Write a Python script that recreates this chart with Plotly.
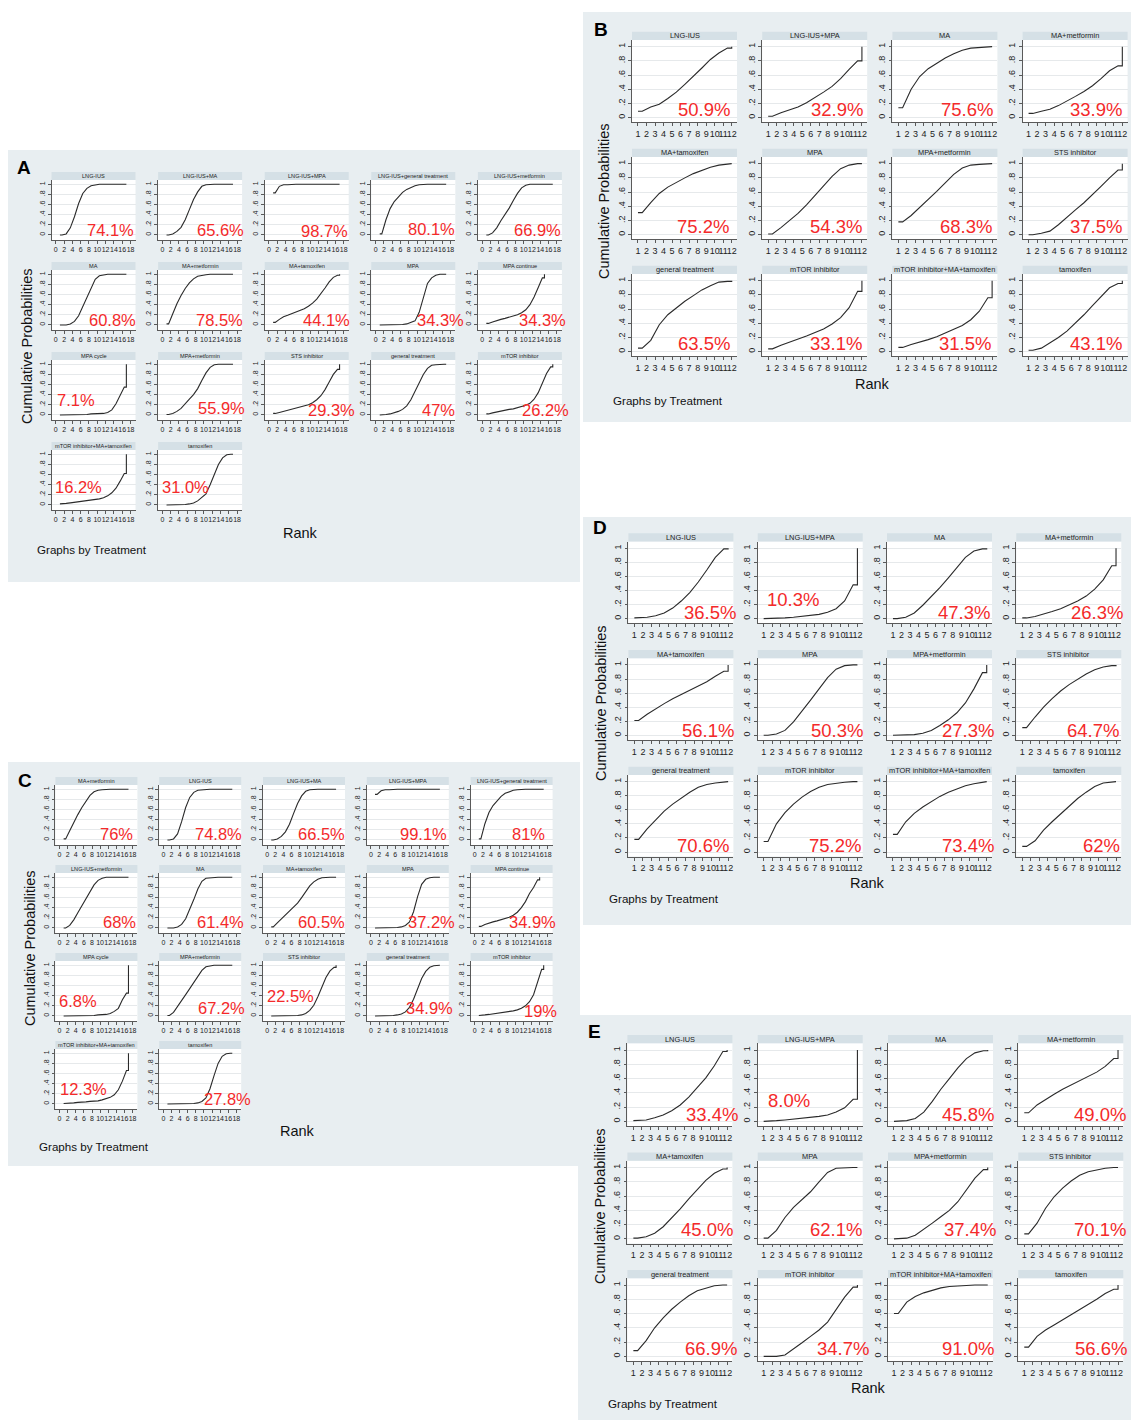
import plotly.graph_objects as go

W, H = 1131, 1420

# ---------------------------------------------------------------- data
# cumulative ranking probabilities, read at rank k+0.5 (k = 1 .. n-1); rank n reaches 1
A_TREATMENTS = ["LNG-IUS", "LNG-IUS+MA", "LNG-IUS+MPA", "LNG-IUS+general treatment", "LNG-IUS+metformin",
                "MA", "MA+metformin", "MA+tamoxifen", "MPA", "MPA continue",
                "MPA cycle", "MPA+metformin", "STS inhibitor", "general treatment", "mTOR inhibitor",
                "mTOR inhibitor+MA+tamoxifen", "tamoxifen"]
A_SUCRA = ["74.1%", "65.6%", "98.7%", "80.1%", "66.9%", "60.8%", "78.5%", "44.1%", "34.3%", "34.3%",
           "7.1%", "55.9%", "29.3%", "47%", "26.2%", "16.2%", "31.0%"]
A_CUM = [
    [0, 0.02, 0.14, 0.36, 0.62, 0.82, 0.92, 0.97, 0.99, 1, 1, 1, 1, 1, 1, 1],
    [0, 0.02, 0.07, 0.15, 0.30, 0.50, 0.70, 0.85, 0.96, 0.99, 1, 1, 1, 1, 1, 1],
    [0.83, 0.96, 0.99, 0.99, 1, 1, 1, 1, 1, 1, 1, 1, 1, 1, 1, 1],
    [0.02, 0.30, 0.52, 0.66, 0.76, 0.84, 0.90, 0.94, 0.97, 0.99, 1, 1, 1, 1, 1, 1],
    [0, 0.04, 0.14, 0.28, 0.40, 0.53, 0.68, 0.82, 0.93, 0.98, 1, 1, 1, 1, 1, 1],
    [0, 0, 0.02, 0.07, 0.18, 0.36, 0.55, 0.75, 0.90, 0.97, 0.99, 1, 1, 1, 1, 1],
    [0.02, 0.22, 0.42, 0.58, 0.72, 0.83, 0.91, 0.96, 0.98, 0.99, 1, 1, 1, 1, 1, 1],
    [0.05, 0.11, 0.16, 0.19, 0.22, 0.25, 0.28, 0.32, 0.37, 0.43, 0.51, 0.61, 0.73, 0.85, 0.94, 0.98],
    [0, 0, 0, 0, 0, 0.01, 0.02, 0.05, 0.08, 0.25, 0.55, 0.82, 0.93, 0.98, 1, 1],
    [0.03, 0.06, 0.09, 0.11, 0.13, 0.15, 0.17, 0.20, 0.24, 0.30, 0.40, 0.55, 0.74, 0.93],
    [0, 0, 0.01, 0.01, 0.01, 0.01, 0.01, 0.02, 0.02, 0.02, 0.03, 0.05, 0.10, 0.22, 0.40, 0.55],
    [0.01, 0.03, 0.07, 0.13, 0.21, 0.31, 0.40, 0.52, 0.68, 0.83, 0.94, 0.99, 1, 1, 1, 1],
    [0.03, 0.05, 0.07, 0.09, 0.11, 0.13, 0.15, 0.17, 0.20, 0.24, 0.30, 0.38, 0.50, 0.65, 0.80, 0.90],
    [0, 0.01, 0.02, 0.04, 0.07, 0.11, 0.18, 0.30, 0.46, 0.64, 0.80, 0.92, 0.98, 0.99, 1, 1],
    [0.02, 0.04, 0.06, 0.08, 0.09, 0.11, 0.12, 0.14, 0.16, 0.19, 0.23, 0.31, 0.44, 0.62, 0.82, 0.95],
    [0.02, 0.03, 0.04, 0.05, 0.06, 0.07, 0.08, 0.09, 0.10, 0.12, 0.14, 0.18, 0.24, 0.33, 0.47, 0.62],
    [0, 0, 0, 0.01, 0.01, 0.02, 0.04, 0.08, 0.15, 0.22, 0.40, 0.60, 0.80, 0.93, 0.99, 1],
]

BDE_TREATMENTS = ["LNG-IUS", "LNG-IUS+MPA", "MA", "MA+metformin", "MA+tamoxifen", "MPA",
                  "MPA+metformin", "STS inhibitor", "general treatment", "mTOR inhibitor",
                  "mTOR inhibitor+MA+tamoxifen", "tamoxifen"]
B_SUCRA = ["50.9%", "32.9%", "75.6%", "33.9%", "75.2%", "54.3%", "68.3%", "37.5%",
           "63.5%", "33.1%", "31.5%", "43.1%"]
B_CUM = [
    [0.09, 0.15, 0.19, 0.27, 0.36, 0.47, 0.58, 0.70, 0.82, 0.91, 0.98],
    [0.02, 0.07, 0.11, 0.15, 0.21, 0.28, 0.36, 0.44, 0.55, 0.68, 0.80],
    [0.14, 0.40, 0.58, 0.69, 0.77, 0.84, 0.90, 0.95, 0.98, 0.99, 1.0],
    [0.06, 0.09, 0.12, 0.17, 0.23, 0.30, 0.37, 0.45, 0.55, 0.66, 0.73],
    [0.31, 0.45, 0.58, 0.67, 0.74, 0.80, 0.86, 0.91, 0.95, 0.98, 0.99],
    [0.01, 0.10, 0.20, 0.30, 0.42, 0.55, 0.69, 0.82, 0.93, 0.98, 1.0],
    [0.18, 0.27, 0.38, 0.49, 0.61, 0.73, 0.85, 0.94, 0.98, 0.99, 1.0],
    [0.0, 0.02, 0.05, 0.14, 0.25, 0.35, 0.45, 0.56, 0.68, 0.80, 0.91],
    [0.05, 0.16, 0.38, 0.52, 0.62, 0.71, 0.79, 0.87, 0.93, 0.98, 0.99],
    [0.04, 0.09, 0.13, 0.17, 0.22, 0.27, 0.32, 0.39, 0.48, 0.62, 0.85],
    [0.06, 0.10, 0.13, 0.17, 0.21, 0.26, 0.31, 0.37, 0.45, 0.57, 0.76],
    [0.02, 0.05, 0.12, 0.20, 0.29, 0.40, 0.52, 0.65, 0.78, 0.90, 0.96],
]

C_TREATMENTS = ["MA+metformin", "LNG-IUS", "LNG-IUS+MA", "LNG-IUS+MPA", "LNG-IUS+general treatment",
                "LNG-IUS+metformin", "MA", "MA+tamoxifen", "MPA", "MPA continue",
                "MPA cycle", "MPA+metformin", "STS inhibitor", "general treatment", "mTOR inhibitor",
                "mTOR inhibitor+MA+tamoxifen", "tamoxifen"]
C_SUCRA = ["76%", "74.8%", "66.5%", "99.1%", "81%", "68%", "61.4%", "60.5%", "37.2%", "34.9%",
           "6.8%", "67.2%", "22.5%", "34.9%", "19%", "12.3%", "27.8%"]
C_CUM = [
    [0.02, 0.18, 0.35, 0.50, 0.64, 0.77, 0.88, 0.95, 0.98, 0.99, 1, 1, 1, 1, 1, 1],
    [0, 0.02, 0.12, 0.36, 0.64, 0.84, 0.94, 0.98, 0.99, 1, 1, 1, 1, 1, 1, 1],
    [0, 0.02, 0.07, 0.16, 0.31, 0.52, 0.72, 0.87, 0.96, 0.99, 1, 1, 1, 1, 1, 1],
    [0.90, 0.97, 0.99, 0.99, 1, 1, 1, 1, 1, 1, 1, 1, 1, 1, 1, 1],
    [0.02, 0.32, 0.54, 0.68, 0.78, 0.86, 0.92, 0.95, 0.98, 0.99, 1, 1, 1, 1, 1, 1],
    [0, 0.05, 0.16, 0.30, 0.44, 0.58, 0.72, 0.85, 0.94, 0.98, 1, 1, 1, 1, 1, 1],
    [0, 0, 0.02, 0.07, 0.18, 0.36, 0.56, 0.77, 0.92, 0.98, 0.99, 1, 1, 1, 1, 1],
    [0.02, 0.10, 0.18, 0.25, 0.32, 0.40, 0.49, 0.60, 0.72, 0.83, 0.91, 0.96, 0.99, 1, 1, 1],
    [0, 0, 0, 0, 0, 0.01, 0.02, 0.05, 0.12, 0.32, 0.62, 0.86, 0.96, 0.99, 1, 1],
    [0.03, 0.07, 0.10, 0.12, 0.14, 0.16, 0.18, 0.21, 0.25, 0.31, 0.40, 0.52, 0.68, 0.80, 0.95],
    [0, 0, 0.01, 0.01, 0.01, 0.01, 0.01, 0.01, 0.02, 0.02, 0.03, 0.05, 0.09, 0.15, 0.32, 0.45],
    [0.01, 0.07, 0.18, 0.30, 0.42, 0.54, 0.66, 0.78, 0.90, 0.97, 0.99, 1, 1, 1, 1, 1],
    [0, 0, 0, 0, 0, 0, 0.01, 0.02, 0.05, 0.11, 0.21, 0.38, 0.58, 0.76, 0.89, 0.96],
    [0, 0, 0, 0, 0.01, 0.02, 0.04, 0.08, 0.17, 0.33, 0.54, 0.74, 0.88, 0.96, 0.99, 1],
    [0.01, 0.02, 0.03, 0.04, 0.05, 0.06, 0.07, 0.08, 0.10, 0.12, 0.15, 0.20, 0.28, 0.42, 0.66, 0.92],
    [0.01, 0.01, 0.02, 0.03, 0.03, 0.04, 0.05, 0.05, 0.06, 0.08, 0.10, 0.13, 0.18, 0.28, 0.45, 0.66],
    [0, 0, 0, 0, 0, 0, 0.01, 0.02, 0.05, 0.12, 0.30, 0.56, 0.80, 0.94, 0.99, 1],
]

D_SUCRA = ["36.5%", "10.3%", "47.3%", "26.3%", "56.1%", "50.3%", "27.3%", "64.7%",
           "70.6%", "75.2%", "73.4%", "62%"]
D_CUM = [
    [0.01, 0.02, 0.04, 0.08, 0.15, 0.25, 0.37, 0.52, 0.69, 0.87, 0.99],
    [0.0, 0.01, 0.01, 0.02, 0.03, 0.04, 0.06, 0.09, 0.14, 0.25, 0.48],
    [0.0, 0.02, 0.08, 0.19, 0.31, 0.44, 0.58, 0.73, 0.87, 0.96, 0.99],
    [0.01, 0.03, 0.06, 0.10, 0.14, 0.19, 0.25, 0.32, 0.42, 0.55, 0.75],
    [0.21, 0.30, 0.38, 0.45, 0.52, 0.58, 0.64, 0.70, 0.76, 0.84, 0.91],
    [0.0, 0.02, 0.07, 0.19, 0.34, 0.50, 0.66, 0.82, 0.94, 0.99, 1.0],
    [0.0, 0.0, 0.01, 0.03, 0.07, 0.14, 0.22, 0.32, 0.46, 0.66, 0.89],
    [0.11, 0.26, 0.40, 0.52, 0.63, 0.72, 0.80, 0.87, 0.93, 0.97, 0.99],
    [0.18, 0.33, 0.46, 0.58, 0.68, 0.77, 0.85, 0.92, 0.96, 0.98, 0.99],
    [0.15, 0.40, 0.56, 0.68, 0.78, 0.86, 0.92, 0.96, 0.98, 0.99, 1.0],
    [0.25, 0.43, 0.55, 0.64, 0.72, 0.79, 0.85, 0.90, 0.94, 0.97, 0.99],
    [0.08, 0.16, 0.31, 0.43, 0.54, 0.65, 0.76, 0.85, 0.93, 0.98, 0.99],
]

E_SUCRA = ["33.4%", "8.0%", "45.8%", "49.0%", "45.0%", "62.1%", "37.4%", "70.1%",
           "66.9%", "34.7%", "91.0%", "56.6%"]
E_CUM = [
    [0.01, 0.02, 0.05, 0.09, 0.15, 0.23, 0.34, 0.47, 0.61, 0.78, 0.98],
    [0.0, 0.01, 0.02, 0.03, 0.04, 0.05, 0.07, 0.09, 0.13, 0.19, 0.31],
    [0.0, 0.01, 0.04, 0.13, 0.28, 0.45, 0.60, 0.75, 0.88, 0.96, 0.99],
    [0.12, 0.23, 0.31, 0.38, 0.45, 0.51, 0.57, 0.63, 0.69, 0.77, 0.88],
    [0.01, 0.03, 0.08, 0.17, 0.29, 0.42, 0.56, 0.69, 0.82, 0.92, 0.98],
    [0.01, 0.12, 0.30, 0.44, 0.55, 0.66, 0.80, 0.93, 0.99, 1.0, 1.0],
    [0.0, 0.01, 0.05, 0.13, 0.22, 0.31, 0.40, 0.52, 0.68, 0.85, 0.97],
    [0.07, 0.22, 0.43, 0.59, 0.71, 0.81, 0.89, 0.94, 0.97, 0.99, 1.0],
    [0.08, 0.22, 0.40, 0.54, 0.66, 0.76, 0.85, 0.92, 0.96, 0.99, 1.0],
    [0.0, 0.0, 0.02, 0.10, 0.19, 0.28, 0.37, 0.48, 0.65, 0.83, 0.97],
    [0.60, 0.76, 0.84, 0.89, 0.93, 0.96, 0.98, 0.99, 1.0, 1.0, 1.0],
    [0.13, 0.28, 0.37, 0.44, 0.51, 0.58, 0.65, 0.72, 0.80, 0.88, 0.94],
]

X_TICKS_18 = [0, 2, 4, 6, 8, 10, 12, 14, 16, 18]
X_TICKS_12 = [1, 2, 3, 4, 5, 6, 7, 8, 9, 10, 11, 12]
Y_TICKS = [0, 0.2, 0.4, 0.6, 0.8, 1]
Y_TICK_TEXT = ["0", ".2", ".4", ".6", ".8", "1"]

# ---------------------------------------------------------------- layout settings
# label placement (centre, in subplot-domain fractions)
A_LABEL_POS = [(0.70, 0.175), (0.74, 0.175), (0.71, 0.15), (0.72, 0.19), (0.71, 0.175),
               (0.73, 0.17), (0.73, 0.17), (0.74, 0.17), (0.82, 0.17), (0.77, 0.17),
               (0.29, 0.33), (0.75, 0.20), (0.80, 0.16), (0.80, 0.175), (0.81, 0.17),
               (0.32, 0.38), (0.33, 0.38)]
C_LABEL_POS = [(0.75, 0.19), (0.72, 0.19), (0.71, 0.19), (0.69, 0.19), (0.71, 0.19),
               (0.78, 0.19), (0.75, 0.19), (0.71, 0.19), (0.79, 0.19), (0.75, 0.19),
               (0.27, 0.33), (0.76, 0.21), (0.33, 0.41), (0.77, 0.22), (0.85, 0.175),
               (0.345, 0.34), (0.83, 0.16)]
B_LABEL_POS = [(0.69, 0.16), (0.71, 0.16), (0.71, 0.16), (0.70, 0.16),
               (0.68, 0.16), (0.70, 0.16), (0.70, 0.16), (0.70, 0.16),
               (0.69, 0.16), (0.70, 0.16), (0.69, 0.16), (0.70, 0.16)]
D_LABEL_POS = [(0.78, 0.13), (0.34, 0.285), (0.73, 0.13), (0.77, 0.13),
               (0.76, 0.12), (0.755, 0.12), (0.77, 0.12), (0.73, 0.12),
               (0.71, 0.14), (0.74, 0.14), (0.77, 0.14), (0.81, 0.14)]
E_LABEL_POS = [(0.81, 0.145), (0.30, 0.31), (0.76, 0.145), (0.78, 0.145),
               (0.76, 0.165), (0.75, 0.165), (0.78, 0.165), (0.78, 0.165),
               (0.80, 0.156), (0.81, 0.156), (0.76, 0.156), (0.79, 0.156)]

BIG = dict(cols=5, w=84, hh=8, ph=60, xr=[-1.03, 19.2], yr=[-0.1, 1.085], xt=X_TICKS_18,
           tf=7, hf=5.6, lf=16.5)
SMALL = dict(cols=4, w=105, hh=8.3, ph=82.3, xr=[0.3, 12.62], yr=[-0.065, 1.094], xt=X_TICKS_12,
             tf=9, hf=7.4, lf=18.5)

PANELS = [
    dict(BIG, name="A", treat=A_TREATMENTS, sucra=A_SUCRA, cum=A_CUM, lp=A_LABEL_POS,
         bg=(8, 150, 580, 582), left0=51.5, cpitch=106.6, top0=172, rpitch=90,
         letter=(24, 168), rank=(300, 533), gbt=(92, 549), ytitle=(27, 346)),
    dict(SMALL, name="B", treat=BDE_TREATMENTS, sucra=B_SUCRA, cum=B_CUM, lp=B_LABEL_POS,
         bg=(583, 12, 1131, 422), left0=632, cpitch=130.2, top0=31.7, rpitch=117,
         letter=(601, 30), rank=(872, 384), gbt=(668, 400), ytitle=(604, 201)),
    dict(BIG, name="C", treat=C_TREATMENTS, sucra=C_SUCRA, cum=C_CUM, lp=C_LABEL_POS,
         bg=(8, 762, 580, 1166), left0=55.4, cpitch=103.8, w=82, top0=777, rpitch=88,
         letter=(25, 780), rank=(297, 1131), gbt=(94, 1146), ytitle=(30, 948)),
    dict(SMALL, name="D", treat=BDE_TREATMENTS, sucra=D_SUCRA, cum=D_CUM, lp=D_LABEL_POS,
         bg=(583, 517, 1131, 925), left0=628.4, cpitch=129.3, top0=533.3, rpitch=116.7, ph=81.6,
         letter=(600, 528), rank=(867, 883), gbt=(664, 898), ytitle=(601, 703)),
    dict(SMALL, name="E", treat=BDE_TREATMENTS, sucra=E_SUCRA, cum=E_CUM, lp=E_LABEL_POS,
         bg=(578, 1015, 1131, 1420), left0=627.4, cpitch=130.3, top0=1035, rpitch=117.5, ph=82.7,
         letter=(594, 1031), rank=(868, 1388), gbt=(663, 1403), ytitle=(600, 1206)),
]

PANEL_BG = "#e8eef1"
STRIP_BG = "#d5e0e6"
AXIS_COL = "#5a5a5a"
GRID_COL = "#e6e9eb"
CURVE_COL = "#2a2a2a"
RED = "#f42a2a"
FONT = "Liberation Sans, Arial, sans-serif"
LABEL_FONT = "Liberation Sans, Arial, sans-serif"


def px(x):
    return x / W


def py(y):
    return 1 - y / H


def curve_xy(cum):
    n = len(cum) + 1
    xs = [1] + [k + 0.5 for k in range(1, n)] + [n, n]
    ys = [cum[0]] + list(cum) + [cum[-1], 1.0]
    return xs, ys


fig = go.Figure()
shapes, annotations, layout_axes = [], [], {}

for P in PANELS:
    x0b, y0b, x1b, y1b = P["bg"]
    shapes.append(dict(type="rect", xref="paper", yref="paper", x0=px(x0b), x1=px(x1b),
                       y0=py(y1b), y1=py(y0b), fillcolor=PANEL_BG, line=dict(width=0), layer="below"))

idx = 0
for P in PANELS:
    for j, (tr, lab, cum) in enumerate(zip(P["treat"], P["sucra"], P["cum"])):
        idx += 1
        r, c = divmod(j, P["cols"])
        x0 = P["left0"] + c * P["cpitch"]
        x1 = x0 + P["w"]
        ht = P["top0"] + r * P["rpitch"]
        pt = ht + P["hh"]
        pb = pt + P["ph"]
        sfx = "" if idx == 1 else str(idx)
        xs, ys = curve_xy(cum)
        fig.add_trace(go.Scatter(x=xs, y=ys, mode="lines", xaxis="x" + sfx, yaxis="y" + sfx,
                                 line=dict(color=CURVE_COL, width=1.1), hoverinfo="skip",
                                 showlegend=False))
        layout_axes["xaxis" + sfx] = dict(
            domain=[px(x0), px(x1)], anchor="y" + sfx, range=P["xr"],
            tickmode="array", tickvals=P["xt"], ticktext=[str(t) for t in P["xt"]],
            showline=True, linecolor=AXIS_COL, linewidth=0.8, ticks="outside", ticklen=3,
            tickcolor=AXIS_COL, tickwidth=0.8, showgrid=False, zeroline=False,
            tickfont=dict(size=P["tf"], color="#222", family=FONT), tickangle=0, fixedrange=True)
        layout_axes["yaxis" + sfx] = dict(
            domain=[py(pb), py(pt)], anchor="x" + sfx, range=P["yr"],
            tickmode="array", tickvals=Y_TICKS, ticktext=Y_TICK_TEXT, tickangle=-90,
            showline=True, linecolor=AXIS_COL, linewidth=0.8, ticks="outside", ticklen=3,
            tickcolor=AXIS_COL, tickwidth=0.8, showgrid=True, gridcolor=GRID_COL, gridwidth=0.8,
            zeroline=False, tickfont=dict(size=P["tf"], color="#222", family=FONT), fixedrange=True)
        shapes.append(dict(type="rect", xref="paper", yref="paper", x0=px(x0), x1=px(x1),
                           y0=py(pb), y1=py(pt), fillcolor="white", line=dict(width=0), layer="below"))
        shapes.append(dict(type="rect", xref="paper", yref="paper", x0=px(x0), x1=px(x1),
                           y0=py(pt), y1=py(ht), fillcolor=STRIP_BG, line=dict(width=0), layer="below"))
        annotations.append(dict(text=tr, x=px((x0 + x1) / 2), y=py(ht + P["hh"] / 2), xref="paper",
                                yref="paper", xanchor="center", yanchor="middle", showarrow=False,
                                font=dict(size=P["hf"], color="#222", family=FONT)))
        lx, ly = P["lp"][j]
        annotations.append(dict(text=lab, x=lx, y=ly, xref="x" + sfx + " domain",
                                yref="y" + sfx + " domain", xanchor="center", yanchor="middle",
                                showarrow=False, font=dict(size=P["lf"], color=RED, family=LABEL_FONT)))
    # panel texts
    annotations.append(dict(text="<b>%s</b>" % P["name"], x=px(P["letter"][0]), y=py(P["letter"][1]),
                            xref="paper", yref="paper", xanchor="center", yanchor="middle",
                            showarrow=False, font=dict(size=19, color="black", family=FONT)))
    annotations.append(dict(text="Rank", x=px(P["rank"][0]), y=py(P["rank"][1]), xref="paper",
                            yref="paper", xanchor="center", yanchor="middle", showarrow=False,
                            font=dict(size=14.5, color="#111", family=FONT)))
    annotations.append(dict(text="Graphs by Treatment", x=px(P["gbt"][0]), y=py(P["gbt"][1]),
                            xref="paper", yref="paper", xanchor="center", yanchor="middle",
                            showarrow=False, font=dict(size=11.6, color="#111", family=FONT)))
    annotations.append(dict(text="Cumulative Probabilities", x=px(P["ytitle"][0]),
                            y=py(P["ytitle"][1]), xref="paper", yref="paper", xanchor="center",
                            yanchor="middle", textangle=-90, showarrow=False,
                            font=dict(size=14.5, color="#111", family=FONT)))

fig.update_layout(width=W, height=H, margin=dict(l=0, r=0, t=0, b=0, pad=0),
                  paper_bgcolor="white", plot_bgcolor="rgba(0,0,0,0)", showlegend=False,
                  shapes=shapes, annotations=annotations, **layout_axes)

fig.write_html("out.html")
